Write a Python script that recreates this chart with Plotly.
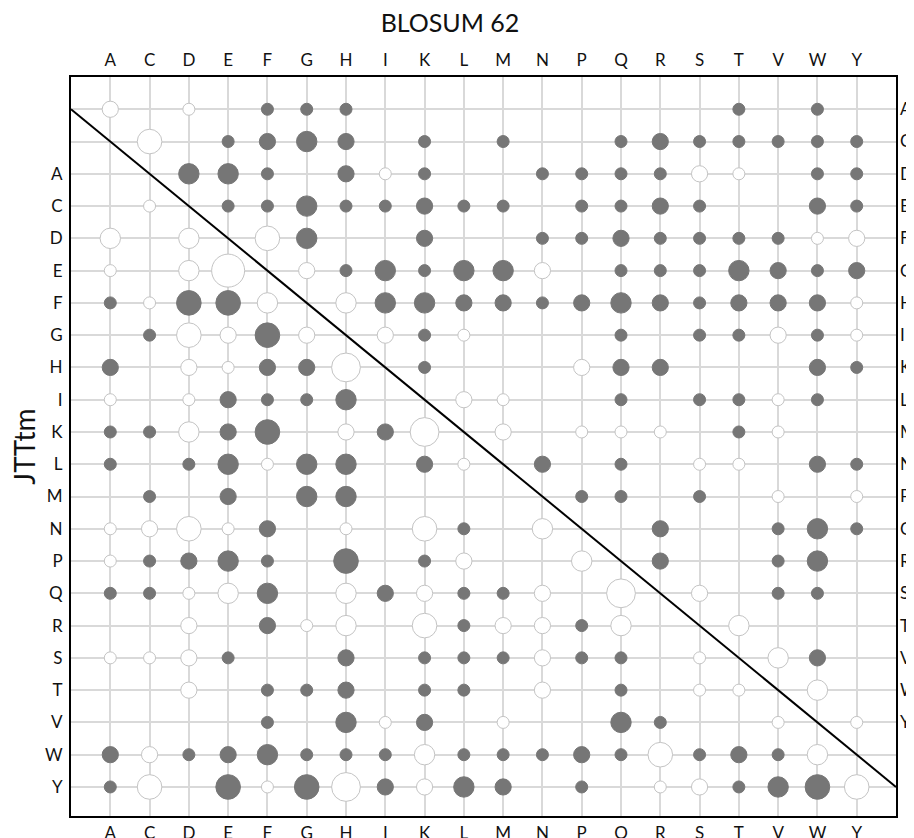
import plotly.graph_objects as go

amino = list("ACDEFGHIKLMNPQRSTVWY")
title_top = "BLOSUM 62"
title_left = "JTTtm"

# signed levels: >0 filled circle, <0 open circle, |v| = size level, 0 = no mark
# BLOSUM 62 (upper triangle): row j, columns i >= j
blosum_A = [-2, 0, -1, 0, 1, 1, 1, 0, 0, 0, 0, 0, 0, 0, 0, 0, 1, 0, 1, 0]
blosum_C = [0, -4, 0, 1, 2, 3, 2, 0, 1, 0, 1, 0, 0, 1, 2, 1, 1, 1, 1, 1]
blosum_D = [0, 0, 3, 3, 1, 0, 2, -1, 1, 0, 0, 1, 1, 1, 1, -2, -1, 0, 1, 1]
blosum_E = [0, 0, 0, 1, 1, 3, 1, 1, 2, 1, 1, 0, 1, 1, 2, 1, 0, 0, 2, 1]
blosum_F = [0, 0, 0, 0, -4, 3, 0, 0, 2, 0, 0, 1, 1, 2, 1, 1, 1, 1, -1, -2]
blosum_G = [0, 0, 0, 0, 0, -2, 1, 3, 1, 3, 3, -2, 0, 1, 1, 1, 3, 2, 1, 2]
blosum_H = [0, 0, 0, 0, 0, 0, -3, 3, 3, 2, 2, 1, 2, 3, 2, 1, 2, 2, 2, -1]
blosum_I = [0, 0, 0, 0, 0, 0, 0, -2, 1, -1, 0, 0, 0, 1, 0, 1, 1, -2, 1, -1]
blosum_K = [0, 0, 0, 0, 0, 0, 0, 0, 1, 0, 0, 0, -2, 2, 2, 0, 0, 0, 2, 1]
blosum_L = [0, 0, 0, 0, 0, 0, 0, 0, 0, -2, -1, 0, 0, 1, 0, 1, 1, -1, 1, 0]
blosum_M = [0, 0, 0, 0, 0, 0, 0, 0, 0, 0, -2, 0, -1, -1, -1, 0, 1, -1, 0, 0]
blosum_N = [0, 0, 0, 0, 0, 0, 0, 0, 0, 0, 0, 2, 0, 1, 0, -1, -1, 0, 2, 1]
blosum_P = [0, 0, 0, 0, 0, 0, 0, 0, 0, 0, 0, 0, 1, 1, 0, 1, 0, -1, 0, -1]
blosum_Q = [0, 0, 0, 0, 0, 0, 0, 0, 0, 0, 0, 0, 0, 0, 2, 0, 0, 1, 3, 1]
blosum_R = [0, 0, 0, 0, 0, 0, 0, 0, 0, 0, 0, 0, 0, 0, 2, 0, 0, 1, 3, 0]
blosum_S = [0, 0, 0, 0, 0, 0, 0, 0, 0, 0, 0, 0, 0, 0, 0, -2, 0, 1, 1, 0]
blosum_T = [0, 0, 0, 0, 0, 0, 0, 0, 0, 0, 0, 0, 0, 0, 0, 0, -3, 0, 0, 0]
blosum_V = [0, 0, 0, 0, 0, 0, 0, 0, 0, 0, 0, 0, 0, 0, 0, 0, 0, -3, 2, 0]
blosum_W = [0, 0, 0, 0, 0, 0, 0, 0, 0, 0, 0, 0, 0, 0, 0, 0, 0, 0, -3, 0]
blosum_Y = [0, 0, 0, 0, 0, 0, 0, 0, 0, 0, 0, 0, 0, 0, 0, 0, 0, 0, 0, -1]

# JTTtm (lower triangle): row j, columns i <= j
jtt_A = [0]
jtt_C = [0, -1]
jtt_D = [-3, 0, -3]
jtt_E = [-1, 0, -3, -6]
jtt_F = [1, -1, 4, 4, -3]
jtt_G = [0, 1, -4, -2, 4, -2]
jtt_H = [2, 0, -2, -1, 2, 2, -5]
jtt_I = [-1, 0, -1, 2, 1, 1, 3, 0]
jtt_K = [1, 1, -3, 2, 4, 0, -2, 2, -5]
jtt_L = [1, 0, 1, 3, -1, 3, 3, 0, 2, -1]
jtt_M = [0, 1, 0, 2, 0, 3, 3, 0, 0, 0, 0]
jtt_N = [-1, -2, -4, -1, 2, 0, -1, 0, -4, 1, 0, -3]
jtt_P = [-1, 1, 2, 3, 1, 0, 4, 0, 1, -2, 0, 0, -3]
jtt_Q = [1, 1, -1, -3, 3, 0, -3, 2, -2, 1, 1, -2, 0, -5]
jtt_R = [0, 0, -2, 0, 2, -1, -3, 0, -4, 1, -2, -2, 1, -3, 0]
jtt_S = [-1, -1, -2, 1, 0, 0, 2, 0, 1, 1, 1, -2, 1, 1, 0, -1]
jtt_T = [0, 0, -2, 0, 1, 1, 2, 0, 1, 1, 0, -2, 0, 1, 0, -1, -1]
jtt_V = [0, 0, 0, 0, 1, 0, 3, -1, 2, 0, -1, 0, 0, 3, 1, 0, 0, -1]
jtt_W = [2, -2, 1, 2, 3, 1, 1, 1, -3, 1, 1, 1, 2, 1, -4, 1, 2, 1, -3]
jtt_Y = [1, -4, 0, 4, -1, 4, -5, 2, -2, 3, 2, 0, 1, 0, -1, -2, 1, 3, 4, -4]

blosum_rows = [blosum_A, blosum_C, blosum_D, blosum_E, blosum_F, blosum_G, blosum_H,
               blosum_I, blosum_K, blosum_L, blosum_M, blosum_N, blosum_P, blosum_Q,
               blosum_R, blosum_S, blosum_T, blosum_V, blosum_W, blosum_Y]
jtt_rows = [jtt_A, jtt_C, jtt_D, jtt_E, jtt_F, jtt_G, jtt_H, jtt_I, jtt_K, jtt_L,
            jtt_M, jtt_N, jtt_P, jtt_Q, jtt_R, jtt_S, jtt_T, jtt_V, jtt_W, jtt_Y]

ROW_SHIFT = 2  # JTTtm rows sit two grid rows below BLOSUM rows
FILL = "#767676"
OPEN_LINE = "#c4c4c4"
GRID = "#d9d9d9"
FONT = "Lato, Open Sans, sans-serif"


def size_of(v):
    return 12 + (abs(v) - 1) * 4.2


def build(rows, shift):
    xs, ys, sz, fc, lc = [], [], [], [], []
    for j, row in enumerate(rows):
        for i, v in enumerate(row):
            if v == 0:
                continue
            xs.append(i)
            ys.append(j + shift)
            sz.append(size_of(v))
            fc.append(FILL if v > 0 else "white")
            lc.append(FILL if v > 0 else OPEN_LINE)
    return xs, ys, sz, fc, lc


n = len(amino)
fig = go.Figure()

for rows, shift, name in [(blosum_rows, 0, title_top), (jtt_rows, ROW_SHIFT, title_left)]:
    xs, ys, sz, fc, lc = build(rows, shift)
    fig.add_trace(go.Scatter(
        x=xs, y=ys, mode="markers", name=name, showlegend=False,
        marker=dict(size=sz, color=fc, line=dict(color=lc, width=1), opacity=1),
        hoverinfo="skip"))

# diagonal separator between the two triangles
fig.add_trace(go.Scatter(
    x=[-1, n], y=[-1 + 1, n + 1], mode="lines", showlegend=False,
    line=dict(color="black", width=2), hoverinfo="skip"))

# dummy trace so the secondary (top/right) axes are drawn
fig.add_trace(go.Scatter(x=[None], y=[None], xaxis="x2", yaxis="y2",
                         showlegend=False, hoverinfo="skip"))

xr = [-1, n]
yr = [n + ROW_SHIFT - 0.1, -1]
tickfont = dict(family=FONT, size=17, color="#111111")

fig.update_layout(
    width=914, height=838,
    margin=dict(l=63, r=26, t=69, b=30),
    paper_bgcolor="white", plot_bgcolor="white",
    title=dict(text=title_top, x=442 / 914, xref="container", y=1 - 15 / 838,
               yref="container", xanchor="center", yanchor="middle",
               font=dict(family=FONT, size=25, color="#111111")),
    xaxis=dict(range=xr, tickvals=list(range(n)), ticktext=amino, showgrid=True,
               gridcolor=GRID, gridwidth=1.5, zeroline=False, showline=True,
               linecolor="black", linewidth=2, mirror=True, ticks="",
               tickfont=tickfont, side="bottom", ticklabelstandoff=1, automargin=False,
               ticklabeloverflow="allow"),
    yaxis=dict(range=yr, tickvals=list(range(n + ROW_SHIFT)),
               ticktext=[""] * ROW_SHIFT + amino, showgrid=True,
               gridcolor=GRID, gridwidth=1.5, zeroline=False, showline=True,
               linecolor="black", linewidth=2, mirror=True, ticks="",
               tickfont=tickfont, ticklabelstandoff=3, automargin=False,
               ticklabeloverflow="allow"),
    xaxis2=dict(range=xr, overlaying="x", side="top", tickvals=list(range(n)),
                ticktext=amino, showgrid=False, zeroline=False, showline=False,
                ticks="", tickfont=tickfont, ticklabelstandoff=7, automargin=False,
                ticklabeloverflow="allow"),
    yaxis2=dict(range=yr, overlaying="y", side="right", tickvals=list(range(n)),
                ticktext=amino, showgrid=False, zeroline=False, showline=False,
                ticks="", tickfont=tickfont, ticklabelstandoff=3, automargin=False,
                ticklabeloverflow="allow"),
    annotations=[dict(text=title_left, xref="paper", yref="paper", x=-0.058, y=0.5,
                      xanchor="center", yanchor="middle", textangle=-90,
                      showarrow=False, font=dict(family=FONT, size=28, color="#111111"),
                      )],
)

fig.write_html("out.html")
